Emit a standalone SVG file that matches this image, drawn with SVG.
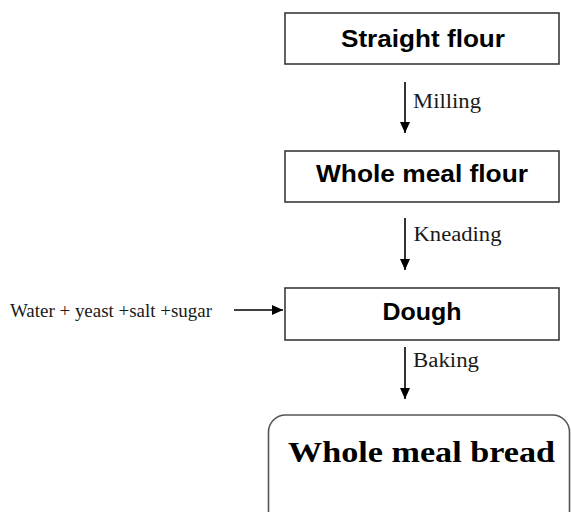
<svg xmlns="http://www.w3.org/2000/svg" width="571" height="512" viewBox="0 0 571 512">
  <style>
    .box { fill: #ffffff; stroke: #3a3a3a; stroke-width: 1.6; }
    .final { fill: #ffffff; stroke: #555555; stroke-width: 1.6; }
    .title { font-family: "Liberation Sans", Arial, sans-serif; font-weight: bold; font-size: 23px; fill: #000000; text-anchor: middle; }
    .big { font-family: "Liberation Serif", "Times New Roman", serif; font-weight: bold; font-size: 30px; fill: #000000; text-anchor: middle; }
    .step { font-family: "Liberation Serif", "Times New Roman", serif; font-size: 20px; fill: #1a1a1a; }
    .input { font-family: "Liberation Serif", "Times New Roman", serif; font-size: 18px; fill: #1a1a1a; }
    .conn { stroke: #000000; stroke-width: 1.6; fill: none; marker-end: url(#head); }
  </style>
  <defs>
    <marker id="head" viewBox="0 0 11 10" refX="11" refY="5" markerWidth="11" markerHeight="10" markerUnits="userSpaceOnUse" orient="auto">
      <path d="M0,0 L11,5 L0,10 Z" fill="#000000"/>
    </marker>
  </defs>
  <rect width="571" height="512" fill="#ffffff"/>

  <g id="straight-flour">
    <rect class="box" x="285" y="13" width="274" height="51"/>
    <text class="title" x="423" y="46.5" textLength="164" lengthAdjust="spacingAndGlyphs">Straight flour</text>
  </g>

  <g id="whole-meal-flour">
    <rect class="box" x="285" y="151" width="274" height="51"/>
    <text class="title" x="422" y="181.5" textLength="212" lengthAdjust="spacingAndGlyphs">Whole meal flour</text>
  </g>

  <g id="dough">
    <rect class="box" x="285" y="288" width="274" height="52"/>
    <text class="title" x="422" y="320" textLength="79" lengthAdjust="spacingAndGlyphs">Dough</text>
  </g>

  <g id="whole-meal-bread">
    <rect class="final" x="268.5" y="415" width="301" height="120" rx="17" ry="17"/>
    <text class="big" x="421.5" y="461.5" textLength="267" lengthAdjust="spacingAndGlyphs">Whole meal bread</text>
  </g>

  <g id="ingredients">
    <text class="input" x="10" y="316.5" textLength="202" lengthAdjust="spacingAndGlyphs">Water + yeast +salt +sugar</text>
  </g>

  <g id="connectors">
    <line class="conn" x1="405" y1="82" x2="405" y2="133"/>
    <text class="step" x="413" y="108.3" textLength="68" lengthAdjust="spacingAndGlyphs">Milling</text>

    <line class="conn" x1="405" y1="218" x2="405" y2="270"/>
    <text class="step" x="413.5" y="241" textLength="88" lengthAdjust="spacingAndGlyphs">Kneading</text>

    <line class="conn" x1="405" y1="347" x2="405" y2="399"/>
    <text class="step" x="413" y="366.7" textLength="66" lengthAdjust="spacingAndGlyphs">Baking</text>

    <line class="conn" x1="234" y1="310" x2="283" y2="310"/>
  </g>
</svg>
